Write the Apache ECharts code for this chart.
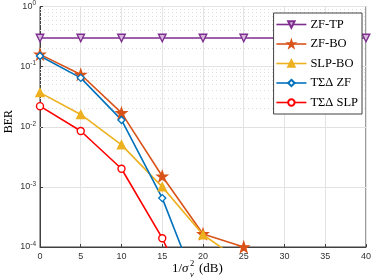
<!DOCTYPE html>
<html><head><meta charset="utf-8">
<script src="https://cdn.jsdelivr.net/npm/echarts@6/dist/echarts.min.js"></script>
<style>html,body{margin:0;padding:0;background:#fff}#c{width:374px;height:280px}</style>
</head><body><div id="c"></div>
<script>
const snr = [0, 5, 10, 15, 20, 25, 30, 35, 40];
const zfTP = [0.3, 0.3, 0.3, 0.3, 0.3, 0.3, 0.3, 0.3, 0.3];
const zfBO = [0.16, 0.074, 0.017, 0.0015, 0.000165, 0.0001, null, null, null];
const slpBO = [0.037, 0.016, 0.005, 0.001, 0.00016, 0.000054, null, null, null];
const tsdZF = [0.15, 0.065, 0.013, 0.00065, 0.000012, null, null, null, null];
const tsdSLP = [0.022, 0.0085, 0.002, 0.00014, 0.000005, null, null, null, null];
const names = ['ZF-TP', 'ZF-BO', 'SLP-BO', 'TΣΔ ZF', 'TΣΔ SLP'];
const xTicks = [0, 5, 10, 15, 20, 25, 30, 35, 40];
const yDecades = [-4, -3, -2, -1, 0];

const star = 'path://M0,-10 L2.35,-3.24 L9.51,-3.09 L3.8,1.24 L5.88,8.09 L0,4 L-5.88,8.09 L-3.8,1.24 L-9.51,-3.09 L-2.35,-3.24 Z';
const pair = a => snr.map((x, i) => [x, a[i]]);
const minorLines = [];
yDecades.slice(0, -1).forEach(e => { for (let k = 2; k <= 9; k++) minorLines.push({ yAxis: k * Math.pow(10, e) }); });

const chart = echarts.init(document.getElementById('c'), null, { renderer: 'canvas' });
const serif = '"Liberation Serif", "DejaVu Serif", serif';
const sans = '"Liberation Sans", Arial, sans-serif';
function mk(name, data, color, symbol, size, fill, extra) {
  return Object.assign({
    name, type: 'line', data: pair(data), color,
    symbol, symbolSize: size, showAllSymbol: true, clip: true,
    lineStyle: { color, width: 1.6, type: 'solid' },
    itemStyle: { color: fill, borderColor: color, borderWidth: 1.4 },
    emphasis: { disabled: true }, z: 5
  }, extra || {});
}
chart.setOption({
  animation: false,
  grid: { left: 40, right: 7, top: 6, bottom: 33, show: true, borderColor: '#404040', borderWidth: 1, backgroundColor: 'transparent' },
  xAxis: {
    type: 'value', min: 0, max: 40, interval: 5,
    axisLine: { show: true, lineStyle: { color: '#404040' } },
    axisTick: { show: true, inside: true, length: 3, lineStyle: { color: '#404040' } },
    axisLabel: { color: '#333', fontFamily: sans, fontSize: 9, margin: 5 },
    splitLine: { show: true, lineStyle: { color: '#e3e3e3', width: 1 } }
  },
  yAxis: {
    type: 'log', logBase: 10, min: 0.0001, max: 1,
    axisLine: { show: true, lineStyle: { color: '#404040' } },
    axisTick: { show: true, inside: true, length: 3, lineStyle: { color: '#404040' } },
    axisLabel: {
      color: '#333', fontFamily: sans, margin: 4,
      formatter: v => '{b|10}{s|' + Math.round(Math.log10(v)) + '}',
      rich: { b: { fontSize: 9, fontFamily: sans, color: '#333' }, s: { fontSize: 6.5, fontFamily: sans, color: '#333', verticalAlign: 'top', padding: [0, 0, 6, 0] } }
    },
    splitLine: { show: true, lineStyle: { color: '#e3e3e3', width: 1 } }
  },
  legend: {
    orient: 'vertical', right: 12, top: 13, data: names, z: 20,
    backgroundColor: '#fff', borderColor: '#404040', borderWidth: 1,
    padding: [5, 4, 5, 2], itemGap: 6.5, itemWidth: 30, itemHeight: 8,
    lineStyle: { type: 'solid', width: 1.6 },
    textStyle: { fontFamily: serif, fontSize: 12.5, color: '#000', padding: [0, 0, 0, -1] }
  },
  graphic: [
    { type: 'text', left: 172, top: 262, style: { text: '1/', font: '13px ' + serif, fill: '#000' } },
    { type: 'text', left: 182, top: 262, style: { text: 'σ', font: 'italic 13px ' + serif, fill: '#000' } },
    { type: 'text', left: 190, top: 259, style: { text: '2', font: '8.5px ' + serif, fill: '#000' } },
    { type: 'text', left: 190, top: 270, style: { text: 'v', font: 'italic 8.5px ' + serif, fill: '#000' } },
    { type: 'text', left: 199, top: 262, style: { text: '(dB)', font: '13px ' + serif, fill: '#000' } },
    { type: 'text', left: 3, top: 110, rotation: Math.PI / 2, style: { text: 'BER', font: '12px ' + serif, fill: '#000' } }
  ],
  series: [
    { name: 'minor-grid', type: 'line', data: [], silent: true, z: 1,
      markLine: { silent: true, symbol: 'none', label: { show: false }, animation: false,
        lineStyle: { type: [1, 3], color: '#dcdcdc', width: 1 }, data: minorLines } },
    mk(names[0], zfTP, '#7E2F8E', 'triangle', 7.5, '#d9b8e0', { symbolRotate: 180 }),
    mk(names[1], zfBO, '#D95319', star, 10, '#D95319'),
    mk(names[2], slpBO, '#EDB120', 'triangle', 8, '#EDB120'),
    mk(names[3], tsdZF, '#0072BD', 'diamond', 7, '#ffffff'),
    mk(names[4], tsdSLP, '#FF0000', 'circle', 7, '#ffffff')
  ]
});
</script></body></html>
